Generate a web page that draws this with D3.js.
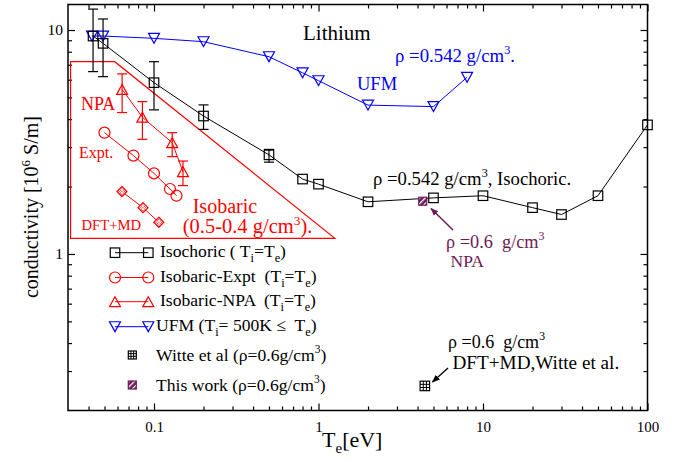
<!DOCTYPE html>
<html><head><meta charset="utf-8">
<script src="https://cdn.jsdelivr.net/npm/d3@7"></script>
<style>body{margin:0;background:#fff}svg{display:block;font-family:"Liberation Serif","Times New Roman",serif}text{white-space:pre}</style>
</head><body><svg id="c" width="683" height="462"></svg>
<script>
// ---- data ----
const isoX = [0.0426, 0.049, 0.1, 0.2, 0.5, 0.8, 1, 2, 5, 10, 20, 30, 50, 100];
const isoY = [9.4, 8.72, 5.82, 4.13, 2.77, 2.16, 2.05, 1.71, 1.78, 1.82, 1.61, 1.50, 1.82, 3.77];
const isoErr = [[6.52, 12.4], [6.19, 11.2], [4.40, 7.22], [3.6, 4.63], [2.57, 2.93], null, null, null, null, null, null, null, null, null];
const ufmX = [0.042, 0.049, 0.1, 0.2, 0.5, 0.8, 1, 2, 5, 8];
const ufmY = [9.4, 9.4, 9.18, 8.87, 7.6, 6.44, 5.94, 4.62, 4.55, 6.15];
const exptX = [0.05, 0.075, 0.1, 0.125, 0.137];
const exptY = [3.48, 2.75, 2.29, 1.95, 1.82];
const npaX = [0.064, 0.085, 0.129, 0.150];
const npaY = [5.43, 4.08, 3.14, 2.33];
const npaErr = [[4.28, 6.37], [3.25, 4.79], [2.72, 3.48], [2.02, 2.60]];
const dftX = [0.0638, 0.0857, 0.107];
const dftY = [1.90, 1.61, 1.385];
const witte = [4.43, 0.2575];
const thisWork = [4.3, 1.72];
const isobaricBox = [[0.0311, 7.22], [0.0577, 7.22], [1.257, 1.175], [0.0311, 1.175]];
const xMajor = [0.1, 1, 10, 100];
const xMajorLabels = ["0.1", "1", "10", "100"];
const yMajor = [1, 10];
const yMajorLabels = ["1", "10"];
const xMinor = [0.04,0.05,0.06,0.07,0.08,0.09,0.2,0.3,0.4,0.5,0.6,0.7,0.8,0.9,2,3,4,5,6,7,8,9,20,30,40,50,60,70,80,90];
const yMinor = [0.3,0.4,0.5,0.6,0.7,0.8,0.9,2,3,4,5,6,7,8,9];

// ---- setup ----
const svg = d3.select("#c");
const L = 68, R = 647.5, T = 4.5, B = 410.5;
const x = d3.scaleLog().domain([0.03, 100]).range([L, R]);
const y = d3.scaleLog().domain([0.2, 13]).range([B, T]);
const RED = "#ff0000", BLUE = "#0000ff", PURP = "#6e1a56";

const defs = svg.append("defs");
const hp = defs.append("pattern").attr("id", "hatch").attr("patternUnits", "userSpaceOnUse")
  .attr("width", 4).attr("height", 4).attr("patternTransform", "rotate(45)");
hp.append("rect").attr("width", 4).attr("height", 4).attr("fill", PURP);
hp.append("rect").attr("width", 1.3).attr("height", 4).attr("fill", "#fff");

// frame + ticks
const g = svg.append("g");
function axisTicks(axisFn, scale, vals, size, tr, fmt) {
  const a = axisFn(scale).tickValues(vals).tickSize(size).tickSizeOuter(0);
  a.tickFormat(fmt || (() => ""));
  const s = g.append("g").attr("transform", tr).call(a);
  s.select(".domain").remove();
  s.selectAll("line").attr("stroke", "#000").attr("stroke-width", 1.2);
  return s;
}
const xl = axisTicks(d3.axisBottom, x, xMajor, -7, `translate(0,${B})`, (d, i) => xMajorLabels[i]);
xl.selectAll("text").attr("y", 11).attr("dy", "0.71em").attr("font-size", 15).attr("font-family", "Liberation Serif").attr("fill", "#000");
axisTicks(d3.axisBottom, x, xMinor, -4, `translate(0,${B})`);
axisTicks(d3.axisTop, x, xMajor, -7, `translate(0,${T})`);
axisTicks(d3.axisTop, x, xMinor, -4, `translate(0,${T})`);
const yl = axisTicks(d3.axisLeft, y, yMajor, -7, `translate(${L},0)`, (d, i) => yMajorLabels[i]);
yl.selectAll("text").attr("x", -5).attr("font-size", 15.5).attr("font-family", "Liberation Serif").attr("fill", "#000");
axisTicks(d3.axisLeft, y, yMinor, -4, `translate(${L},0)`);
axisTicks(d3.axisRight, y, yMajor, -7, `translate(${R},0)`);
axisTicks(d3.axisRight, y, yMinor, -4, `translate(${R},0)`);
g.append("rect").attr("x", L).attr("y", T).attr("width", R - L).attr("height", B - T)
  .attr("fill", "none").attr("stroke", "#000").attr("stroke-width", 1.5);

// axis titles
const yt = svg.append("text").attr("transform", "translate(38,207) rotate(-90)").attr("text-anchor", "middle")
  .attr("font-size", 20);
yt.append("tspan").text("conductivity [10");
yt.append("tspan").attr("dy", -8).attr("font-size", 13).text("6");
yt.append("tspan").attr("dy", 8).text(" S/m]");
const xt = svg.append("text").attr("x", 322).attr("y", 447).attr("font-size", 22);
xt.append("tspan").text("T");
xt.append("tspan").attr("dy", 6).attr("font-size", 15).text("e");
xt.append("tspan").attr("dy", -6).text("[eV]");

// isobaric box
const plot = svg.append("g");
plot.append("path").attr("d", d3.line().x(d => x(d[0])).y(d => y(d[1]))(isobaricBox) + "Z")
  .attr("fill", "none").attr("stroke", RED).attr("stroke-width", 1.2);

// marker helpers
function square(sel, cx, cy, s, stroke, fill) {
  sel.append("rect").attr("x", cx - s / 2).attr("y", cy - s / 2).attr("width", s).attr("height", s)
    .attr("fill", fill || "none").attr("stroke", stroke).attr("stroke-width", 1.2);
}
function circle(sel, cx, cy, r, stroke) {
  sel.append("circle").attr("cx", cx).attr("cy", cy).attr("r", r).attr("fill", "none").attr("stroke", stroke).attr("stroke-width", 1.2);
}
function tri(sel, cx, cy, s, stroke, down) {
  const h = s * 0.9, k = down ? -1 : 1;
  const pts = [[cx - s / 2, cy + k * h / 2], [cx + s / 2, cy + k * h / 2], [cx, cy - k * h / 2]];
  sel.append("polygon").attr("points", pts.map(p => p.join(",")).join(" ")).attr("fill", "none").attr("stroke", stroke).attr("stroke-width", 1.2);
}
function diamond(sel, cx, cy, r, stroke) {
  sel.append("polygon").attr("points", [[cx, cy - r], [cx + r, cy], [cx, cy + r], [cx - r, cy]].map(p => p.join(",")).join(" "))
    .attr("fill", "#fff").attr("stroke", stroke).attr("stroke-width", 1.2);
  [[-2, 0], [2, 0], [0, -2], [0, 2], [0, 0], [-1, -1], [1, 1], [1, -1], [-1, 1]].forEach(o => {
    sel.append("rect").attr("x", cx + o[0] * 1.4 - 0.5).attr("y", cy + o[1] * 1.4 - 0.5).attr("width", 1).attr("height", 1).attr("fill", stroke);
  });
}
function grid(sel, cx, cy, s) {
  square(sel, cx, cy, s, "#000", "#fff");
  for (let i = 1; i < 3; i++) {
    sel.append("line").attr("x1", cx - s / 2 + i * s / 3).attr("x2", cx - s / 2 + i * s / 3).attr("y1", cy - s / 2).attr("y2", cy + s / 2).attr("stroke", "#000").attr("stroke-width", 1);
    sel.append("line").attr("y1", cy - s / 2 + i * s / 3).attr("y2", cy - s / 2 + i * s / 3).attr("x1", cx - s / 2).attr("x2", cx + s / 2).attr("stroke", "#000").attr("stroke-width", 1);
  }
}
function errbars(sel, xs, errs, color) {
  xs.forEach((xv, i) => {
    const e = errs[i]; if (!e) return;
    const cx = x(xv), y0 = y(e[0]), y1 = y(e[1]);
    sel.append("line").attr("x1", cx).attr("x2", cx).attr("y1", y0).attr("y2", y1).attr("stroke", color).attr("stroke-width", 1.2);
    [y0, y1].forEach(yy => sel.append("line").attr("x1", cx - 5).attr("x2", cx + 5).attr("y1", yy).attr("y2", yy).attr("stroke", color).attr("stroke-width", 1.2));
  });
}
function series(xs, ys, color) {
  plot.append("path").attr("d", d3.line().x((d, i) => x(xs[i])).y(d => y(d))(ys)).attr("fill", "none").attr("stroke", color).attr("stroke-width", 1);
}

// series
series(ufmX, ufmY, BLUE);
ufmX.forEach((v, i) => tri(plot, x(v), y(ufmY[i]), 11, BLUE, true));
series(isoX, isoY, "#000");
errbars(plot, isoX, isoErr, "#000");
isoX.forEach((v, i) => square(plot, x(v), y(isoY[i]), 9.5, "#000"));
series(exptX, exptY, RED);
exptX.forEach((v, i) => circle(plot, x(v), y(exptY[i]), 5.5, RED));
series(npaX, npaY, RED);
errbars(plot, npaX, npaErr, RED);
npaX.forEach((v, i) => tri(plot, x(v), y(npaY[i]), 11, RED, false));
series(dftX, dftY, RED);
dftX.forEach((v, i) => diamond(plot, x(v), y(dftY[i]), 5, RED));
grid(plot, x(witte[0]), y(witte[1]), 9.5);
square(plot, x(thisWork[0]), y(thisWork[1]), 8, PURP, "url(#hatch)");

// arrows
defs.append("marker").attr("id", "ahP").attr("viewBox", "0 0 10 10").attr("refX", 9).attr("refY", 5)
  .attr("markerWidth", 8).attr("markerHeight", 8).attr("orient", "auto").attr("markerUnits", "userSpaceOnUse")
  .append("path").attr("d", "M0,1L10,5L0,9Z").attr("fill", PURP);
defs.append("marker").attr("id", "ahK").attr("viewBox", "0 0 10 10").attr("refX", 9).attr("refY", 5)
  .attr("markerWidth", 8).attr("markerHeight", 8).attr("orient", "auto").attr("markerUnits", "userSpaceOnUse")
  .append("path").attr("d", "M0,1L10,5L0,9Z").attr("fill", "#000");
svg.append("line").attr("x1", 453).attr("y1", 230).attr("x2", 431).attr("y2", 208.5).attr("stroke", PURP).attr("stroke-width", 1.5).attr("marker-end", "url(#ahP)");
svg.append("line").attr("x1", 448).attr("y1", 368).attr("x2", 432.5).attr("y2", 382).attr("stroke", "#000").attr("stroke-width", 1.3).attr("marker-end", "url(#ahK)");

// annotation text (each entry of `lines` = [x, y, size, parts]; all lines in one text element)
function txtLines(color, lines) {
  const t = svg.append("text").attr("fill", color);
  lines.forEach(([xp, yp, size, parts]) => {
    let first = true;
    parts.forEach(p => {
      const s = t.append("tspan");
      if (first) { s.attr("x", xp).attr("y", yp); first = false; }
      if (typeof p === "string") s.attr("font-size", size).text(p);
      else if (p.sup) {
        s.attr("dy", -size * 0.42).attr("font-size", size * 0.65).text(p.sup);
        t.append("tspan").attr("dy", size * 0.42).attr("font-size", size).text(p.after || "");
      } else if (p.sub) {
        s.attr("dy", size * 0.3).attr("font-size", size * 0.7).text(p.sub);
        t.append("tspan").attr("dy", -size * 0.3).attr("font-size", size).text(p.after || "");
      }
    });
  });
  return t;
}
function txt(xp, yp, size, color, parts) { return txtLines(color, [[xp, yp, size, parts]]); }

txt(303, 40, 21, "#000", ["Lithium"]);
txt(395, 61.7, 18.8, BLUE, ["ρ =0.542 g/cm", {sup: "3", after: "."}]);
txt(357, 90, 18.5, BLUE, ["UFM"]);
txt(373, 185, 18.7, "#000", ["ρ =0.542 g/cm", {sup: "3", after: ", Isochoric."}]);
txtLines(PURP, [[446, 248, 18.3, ["ρ =0.6  g/cm", {sup: "3"}]], [450.5, 266.5, 17.5, ["NPA"]]]);
txtLines("#000", [[448, 347.5, 18, ["ρ =0.6  g/cm", {sup: "3"}]], [452.5, 368.5, 19.2, ["DFT+MD,Witte et al."]]]);
txt(81, 110, 18, RED, ["NPA"]);
txt(79, 158.3, 16, RED, ["Expt."]);
txt(81.5, 230, 14.7, RED, ["DFT+MD"]);
txtLines(RED, [[192.7, 213.3, 20, ["Isobaric"]], [182.7, 233.3, 20.5, ["(0.5-0.4 g/cm", {sup: "3", after: ")."}]]]);

// legend
const leg = svg.append("g");
const ly = [252.7, 277.5, 301.7, 326.7, 355, 385];
const lx0 = 115, lx1 = 148.3;
[[0, "#000"], [1, RED], [2, RED], [3, BLUE]].forEach(([i, c]) => {
  leg.append("line").attr("x1", lx0).attr("x2", lx1).attr("y1", ly[i]).attr("y2", ly[i]).attr("stroke", c).attr("stroke-width", 1);
});
[lx0, lx1].forEach(xx => {
  square(leg, xx, ly[0], 9.5, "#000");
  circle(leg, xx, ly[1], 5.5, RED);
  tri(leg, xx, ly[2], 11, RED, false);
  tri(leg, xx, ly[3], 11, BLUE, true);
});
grid(leg, 132.3, ly[4], 8);
square(leg, 132.3, ly[5], 8, PURP, "url(#hatch)");
const LF = 17.6;
txt(160, ly[0] + 4.5, LF, "#000", ["Isochoric ( T", {sub: "i", after: "=T"}, {sub: "e", after: ")"}]);
txt(160, ly[1] + 4.5, LF, "#000", ["Isobaric-Expt  (T", {sub: "i", after: "=T"}, {sub: "e", after: ")"}]);
txt(160, ly[2] + 4.5, LF, "#000", ["Isobaric-NPA  (T", {sub: "i", after: "=T"}, {sub: "e", after: ")"}]);
txt(156, ly[3] + 4.5, LF, "#000", ["UFM (T", {sub: "i", after: "= 500K ≤  T"}, {sub: "e", after: ")"}]);
txt(156, ly[4] + 5.5, LF, "#000", ["Witte et al (ρ=0.6g/cm", {sup: "3", after: ")"}]);
txt(156, ly[5] + 5.5, LF, "#000", ["This work (ρ=0.6g/cm", {sup: "3", after: ")"}]);
</script></body></html>
